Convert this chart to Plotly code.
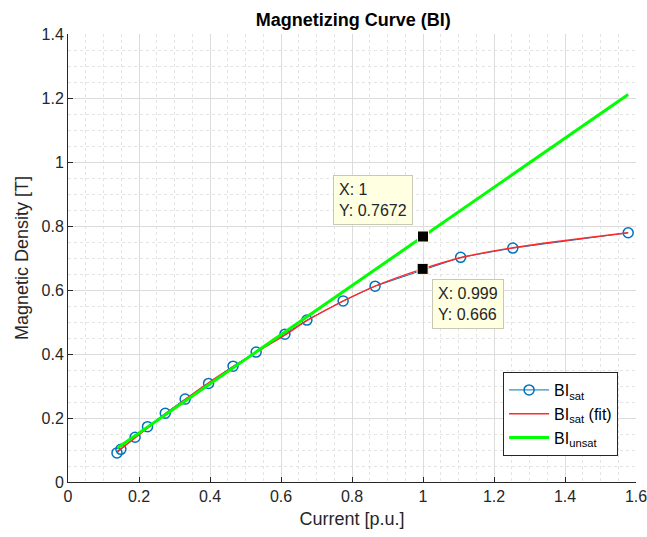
import plotly.graph_objects as go

# Measured data (BI_sat)
i_sat = [0.138, 0.149, 0.189, 0.224, 0.274, 0.330, 0.396, 0.465, 0.530, 0.611, 0.673, 0.775, 0.865, 1.106, 1.253, 1.578]
b_sat = [0.091, 0.102, 0.140, 0.173, 0.215, 0.259, 0.308, 0.362, 0.406, 0.462, 0.506, 0.566, 0.612, 0.702, 0.731, 0.779]

# Fitted curve (BI_sat fit)
i_fit = [0.138, 0.189, 0.274, 0.396, 0.530, 0.611, 0.673, 0.775, 0.865, 0.999, 1.106, 1.253, 1.578]
b_fit = [0.095, 0.138, 0.212, 0.310, 0.405, 0.459, 0.504, 0.565, 0.612, 0.666, 0.701, 0.732, 0.779]

# Unsaturated line (BI_unsat)
i_unsat = [0.140, 1.578]
b_unsat = [0.107, 1.211]

# Data tips
tip_x = [1.0, 0.999]
tip_y = [0.7672, 0.666]
tip_text = ["X: 1<br>Y: 0.7672", "X: 0.999<br>Y: 0.666"]
tip_pos_x = [0.858, 1.126]
tip_pos_y = [0.882, 0.557]

x_ticks = [0, 0.2, 0.4, 0.6, 0.8, 1, 1.2, 1.4, 1.6]
y_ticks = [0, 0.2, 0.4, 0.6, 0.8, 1, 1.2, 1.4]

FONT = "Liberation Sans, Arial, sans-serif"
TXT = "#262626"

fig = go.Figure()
fig.add_trace(go.Scatter(
    x=i_sat, y=b_sat, mode="lines+markers", name="BI<sub>sat</sub>",
    line=dict(color="#0072BD", width=1),
    marker=dict(symbol="circle-open", size=10, color="#0072BD", line=dict(width=1.5, color="#0072BD")),
))
fig.add_trace(go.Scatter(
    x=i_fit, y=b_fit, mode="lines", name="BI<sub>sat</sub> (fit)",
    line=dict(color="#FF2A2A", width=1.5, shape="spline"),
))
fig.add_trace(go.Scatter(
    x=i_unsat, y=b_unsat, mode="lines", name="BI<sub>unsat</sub>",
    line=dict(color="#00FF00", width=3),
))
fig.add_trace(go.Scatter(
    x=tip_x, y=tip_y, mode="markers", showlegend=False,
    marker=dict(symbol="square", size=11, color="black", line=dict(width=1, color="#FFFFE1")),
))

for tx, ty, t in zip(tip_pos_x, tip_pos_y, tip_text):
    fig.add_annotation(
        x=tx, y=ty, xref="x", yref="y", text=t, showarrow=False, align="left",
        xanchor="center", yanchor="middle",
        font=dict(family=FONT, size=16, color=TXT),
        bgcolor="#FFFFE1", bordercolor="#C8C8B4", borderwidth=1, borderpad=5,
    )

axis_common = dict(
    showgrid=True, gridcolor="#DCDCDC", gridwidth=1, zeroline=False,
    showline=True, linecolor=TXT, linewidth=1, mirror=False,
    ticks="inside", ticklen=5, tickcolor=TXT, automargin=False,
    ticklabeloverflow="allow",
    tickfont=dict(family=FONT, size=16, color=TXT),
    minor=dict(showgrid=True, gridcolor="#E4E4E4", griddash="dot", dtick=0.05, ticks=""),
)

fig.update_xaxes(range=[0, 1.6], tickvals=x_ticks, ticktext=[str(v) for v in x_ticks],
                 title=dict(text="Current [p.u.]", font=dict(family=FONT, size=18, color=TXT), standoff=8),
                 **axis_common)
fig.update_yaxes(range=[0, 1.4], tickvals=y_ticks, ticktext=[str(v) for v in y_ticks],
                 title=dict(text="Magnetic Density [T]", font=dict(family=FONT, size=18, color=TXT), standoff=8),
                 **axis_common)

fig.update_layout(
    width=647, height=537,
    margin=dict(l=68, r=11, t=34, b=55),
    paper_bgcolor="white", plot_bgcolor="white",
    title=dict(text="<b>Magnetizing Curve (BI)</b>", x=0.546, xanchor="center", y=0.963, yanchor="middle",
               font=dict(family=FONT, size=18, color="black")),
    legend=dict(x=0.766, y=0.2455, xanchor="left", yanchor="top",
                bgcolor="white", bordercolor=TXT, borderwidth=1,
                font=dict(family=FONT, size=16, color="black"), itemwidth=40, tracegroupgap=0),
    showlegend=True,
)

fig.write_html("out.html")
